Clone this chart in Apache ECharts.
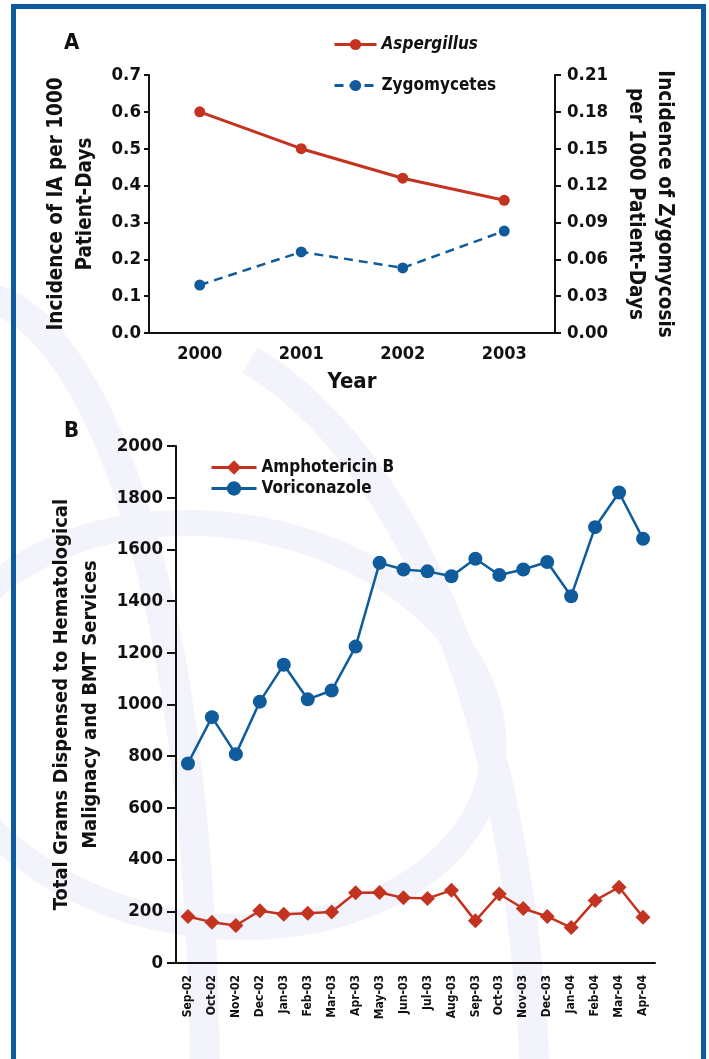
<!DOCTYPE html>
<html>
<head>
<meta charset="utf-8">
<script src="https://cdn.jsdelivr.net/npm/echarts@6/dist/echarts.min.js"></script>
<style>
html,body{margin:0;padding:0;background:#fff;}
#chart{width:709px;height:1059px;}
</style>
</head>
<body>
<div id="chart"></div>
<script>
// Panel A data
const yearsA = ['2000', '2001', '2002', '2003'];
const aspergillus = [0.60, 0.50, 0.42, 0.36];
const zygomycetes = [0.039, 0.066, 0.053, 0.083];

// Panel B data
const monthsB = ['Sep-02','Oct-02','Nov-02','Dec-02','Jan-03','Feb-03','Mar-03','Apr-03','May-03','Jun-03',
  'Jul-03','Aug-03','Sep-03','Oct-03','Nov-03','Dec-03','Jan-04','Feb-04','Mar-04','Apr-04'];
const amphotericinB = [180, 158, 145, 202, 189, 192, 197, 272, 273, 252, 250, 281, 163, 267, 211, 180, 137, 242, 293, 177];
const voriconazole = [772, 951, 808, 1011, 1154, 1020, 1054, 1224, 1548, 1522, 1515, 1496, 1564, 1501, 1522, 1551, 1419, 1686, 1820, 1641];

const FONT = '"DejaVu Sans Condensed", "Liberation Sans Narrow", "DejaVu Sans", sans-serif';
const RED = '#c4331f';
const BLUE = '#0f5b9b';
const WATER = '#f3f4fb';
const AXIS = {lineStyle: {color: '#111', width: 2}};
const txt = (size, extra) => Object.assign({fontFamily: FONT, fontWeight: 'bold', fontSize: size, color: '#111'}, extra || {});

const chart = echarts.init(document.getElementById('chart'), null, {renderer: 'canvas'});

const option = {
  backgroundColor: '#ffffff',
  animation: false,
  graphic: [
    // decorative watermark arcs
    {type: 'ellipse', silent: true, z: -10, x: 215, y: 725, rotation: -0.15,
      shape: {cx: 0, cy: 0, rx: 280, ry: 200},
      style: {fill: null, stroke: WATER, lineWidth: 26}},
    {type: 'bezierCurve', silent: true, z: -10,
      shape: {x1: -10, y1: 298, cpx1: 80, cpy1: 320, cpx2: 200, cpy2: 540, x2: 205, y2: 1075},
      style: {fill: null, stroke: WATER, lineWidth: 30}},
    {type: 'bezierCurve', silent: true, z: -10,
      shape: {x1: 250, y1: 360, cpx1: 400, cpy1: 450, cpx2: 520, cpy2: 700, x2: 535, y2: 1075},
      style: {fill: null, stroke: WATER, lineWidth: 30}},
    // frame
    {type: 'polyline', silent: true, z: 100, shape: {points: [[13.5, 1070], [13.5, 6.5], [703.5, 6.5], [703.5, 1070]]},
      style: {fill: null, stroke: '#0d5a9e', lineWidth: 5}},
    {type: 'text', left: 64, top: 32, style: Object.assign({text: 'A'}, txt(22), {fill: '#111'})},
    {type: 'text', left: 64, top: 420, style: Object.assign({text: 'B'}, txt(22), {fill: '#111'})}
  ],
  legend: [
    {
      orient: 'vertical', left: 333, top: 36, padding: 0, itemWidth: 42, itemHeight: 14, itemGap: 24,
      textStyle: txt(17),
      lineStyle: {width: 3},
      data: [
        {name: 'Aspergillus', textStyle: {fontStyle: 'italic'}},
        {name: 'Zygomycetes'}
      ]
    },
    {
      orient: 'vertical', left: 210, top: 459, padding: 0, itemWidth: 45, itemHeight: 18, itemGap: 4,
      textStyle: txt(17),
      lineStyle: {width: 3},
      data: ['Amphotericin B', 'Voriconazole']
    }
  ],
  grid: [
    {left: 149, top: 75, width: 406, height: 258},
    {left: 176, top: 446, width: 479, height: 517}
  ],
  xAxis: [
    {
      gridIndex: 0, type: 'category', data: yearsA, boundaryGap: true,
      axisLine: AXIS, axisTick: {alignWithLabel: true, length: 6, lineStyle: {color: '#111', width: 2}},
      axisLabel: txt(18, {margin: 12}),
      name: 'Year', nameLocation: 'middle', nameGap: 38, nameTextStyle: txt(22)
    },
    {
      gridIndex: 1, type: 'category', data: monthsB, boundaryGap: true,
      axisLine: AXIS, axisTick: {length: 7, lineStyle: {color: '#111', width: 2}},
      axisLabel: txt(12, {rotate: 90, margin: 12, interval: 0})
    }
  ],
  yAxis: [
    {
      gridIndex: 0, type: 'value', min: 0, max: 0.7, interval: 0.1, position: 'left',
      axisLine: Object.assign({show: true}, AXIS), axisTick: {show: true, length: 5, lineStyle: {color: '#111', width: 2}},
      splitLine: {show: false},
      axisLabel: txt(18.5, {margin: 8, formatter: v => v.toFixed(1)}),
      name: 'Incidence of IA per 1000\nPatient-Days', nameLocation: 'middle', nameGap: 40,
      nameTextStyle: txt(20.5, {lineHeight: 29})
    },
    {
      gridIndex: 0, type: 'value', min: 0, max: 0.21, interval: 0.03, position: 'right',
      axisLine: Object.assign({show: true}, AXIS), axisTick: {show: true, length: 6, lineStyle: {color: '#111', width: 2}},
      splitLine: {show: false},
      axisLabel: txt(18.5, {margin: 12, formatter: v => v.toFixed(2)}),
      name: 'Incidence of Zygomycosis\nper 1000 Patient-Days', nameLocation: 'middle', nameGap: 66, nameRotate: -90,
      nameTextStyle: txt(20.5, {lineHeight: 29})
    },
    {
      gridIndex: 1, type: 'value', min: 0, max: 2000, interval: 200,
      axisLine: Object.assign({show: true}, AXIS), axisTick: {show: true, length: 9, lineStyle: {color: '#111', width: 2}},
      splitLine: {show: false},
      axisLabel: txt(18.5, {margin: 13, formatter: v => String(v)}),
      name: 'Total Grams Dispensed to Hematological\nMalignacy and BMT Services', nameLocation: 'middle', nameGap: 68,
      nameTextStyle: txt(20, {lineHeight: 29})
    }
  ],
  series: [
    {
      name: 'Aspergillus', type: 'line', xAxisIndex: 0, yAxisIndex: 0, data: aspergillus,
      symbol: 'circle', symbolSize: 11, color: RED,
      lineStyle: {color: RED, width: 3}, itemStyle: {color: RED}
    },
    {
      name: 'Zygomycetes', type: 'line', xAxisIndex: 0, yAxisIndex: 1, data: zygomycetes,
      symbol: 'circle', symbolSize: 11, color: BLUE,
      lineStyle: {color: BLUE, width: 2.5, type: [9, 6]}, itemStyle: {color: BLUE}
    },
    {
      name: 'Amphotericin B', type: 'line', xAxisIndex: 1, yAxisIndex: 2, data: amphotericinB,
      symbol: 'diamond', symbolSize: 15, color: RED,
      lineStyle: {color: RED, width: 2.5}, itemStyle: {color: RED}
    },
    {
      name: 'Voriconazole', type: 'line', xAxisIndex: 1, yAxisIndex: 2, data: voriconazole,
      symbol: 'circle', symbolSize: 14, color: BLUE,
      lineStyle: {color: BLUE, width: 2.5}, itemStyle: {color: BLUE}
    }
  ]
};
chart.setOption(option);
</script>
</body>
</html>
